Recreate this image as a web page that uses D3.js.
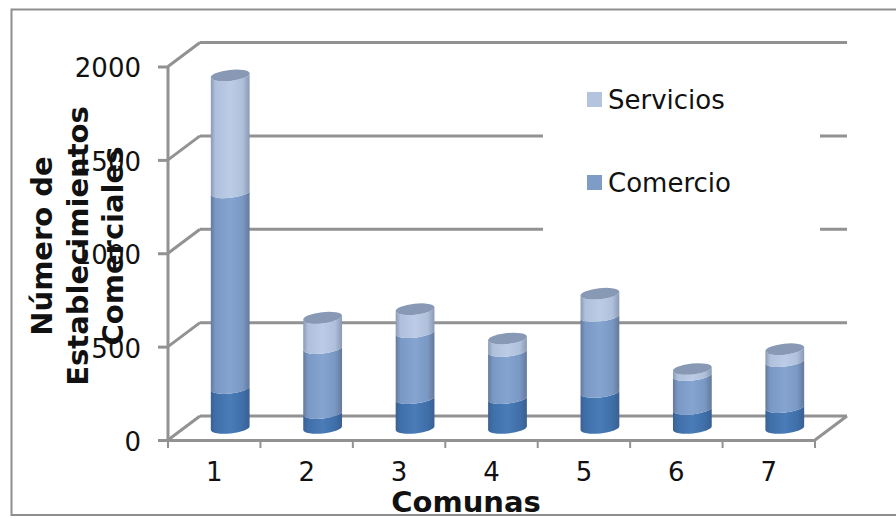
<!DOCTYPE html>
<html>
<head>
<meta charset="utf-8">
<script src="https://cdn.jsdelivr.net/npm/d3@7"></script>
<style>
  html, body { margin: 0; padding: 0; background: #fff; overflow: hidden; }
  text { font-family: "DejaVu Sans", Verdana, sans-serif; fill: #111; }
  .tick_label { font-size: 26px; }
  .title_label { font-size: 29px; font-weight: bold; }
  .legend_label { font-size: 26px; }
</style>
</head>
<body>
<div id="chart"></div>
<script>
var comunas = ["1", "2", "3", "4", "5", "6", "7"];
var yTicks = [0, 500, 1000, 1500, 2000];

// the three stacked series, bottom to top
var base = [214, 80, 160, 160, 193, 102, 112];
var comercio = [1048, 348, 353, 252, 406, 181, 246];
var servicios = [626, 163, 123, 67, 120, 33, 64];

var width = 896, height = 519;
var left = 168, right = 815, bottom = 440, top_ = 66.5;
var depth_x = 32, depth_y = -24;
var cyl_r = 19.5, cap_r = 5.5, cap_angle = -6;

var svg = d3.select("#chart")
  .append("svg")
  .attr("width", width)
  .attr("height", height)
  .style("display", "block");

var xScale = d3.scaleBand().domain(comunas).range([left, right]);
var yScale = d3.scaleLinear().domain([0, 2000]).range([bottom, top_]);

// side shading of the cylinders
var defs = svg.append("defs");
function makeGradient(id, edge, mid, light) {
  var g = defs.append("linearGradient").attr("id", id);
  g.append("stop").attr("offset", "0%").attr("stop-color", edge);
  g.append("stop").attr("offset", "12%").attr("stop-color", mid);
  g.append("stop").attr("offset", "50%").attr("stop-color", light);
  g.append("stop").attr("offset", "82%").attr("stop-color", mid);
  g.append("stop").attr("offset", "100%").attr("stop-color", edge);
}
makeGradient("grad_base", "#3a6092", "#3f6fa9", "#4a7cb7");
makeGradient("grad_comercio", "#64799c", "#7a98c4", "#86a4d0");
makeGradient("grad_servicios", "#8a9ab4", "#afc0dc", "#bccce6");

// frame, open on the right where the page ends
svg.append("rect")
  .attr("x", 11.5).attr("y", 9.5)
  .attr("width", 900).attr("height", 505.5)
  .attr("fill", "#fff")
  .attr("stroke", "#8e8e8e")
  .attr("stroke-width", 2);

// back wall lines and the slanted ones on the side wall
var grid = svg.append("g").attr("fill", "none").attr("stroke", "#929292").attr("stroke-width", 3);

grid.selectAll(".back_line")
  .data(yTicks)
  .enter().append("line")
  .attr("class", "back_line")
  .attr("x1", left + depth_x)
  .attr("x2", right + depth_x)
  .attr("y1", function(d) { return yScale(d) + depth_y; })
  .attr("y2", function(d) { return yScale(d) + depth_y; });

grid.selectAll(".side_line")
  .data(yTicks)
  .enter().append("line")
  .attr("class", "side_line")
  .attr("x1", left)
  .attr("x2", left + depth_x)
  .attr("y1", function(d) { return yScale(d); })
  .attr("y2", function(d) { return yScale(d) + depth_y; });

// floor edge on the right
grid.append("line")
  .attr("x1", right).attr("x2", right + depth_x)
  .attr("y1", bottom).attr("y2", bottom + depth_y);

// the legend box hides the middle lines behind it
svg.append("rect")
  .attr("x", 543).attr("y", 120)
  .attr("width", 277).attr("height", 125)
  .attr("fill", "#fff");

// axes
var yAxis = svg.append("g")
  .attr("transform", "translate(" + left + ",0)")
  .call(d3.axisLeft(yScale).tickValues(yTicks).tickFormat(d3.format("d")).tickSize(10).tickPadding(17));

var xAxis = svg.append("g")
  .attr("transform", "translate(0," + bottom + ")")
  .call(d3.axisBottom(xScale).tickSize(0).tickPadding(23));

yAxis.selectAll(".tick text").attr("class", "tick_label").attr("dy", "0.4em");
xAxis.selectAll(".tick text").attr("class", "tick_label").attr("dy", "0.71em");

[yAxis, xAxis].forEach(function(a) {
  a.attr("font-family", null).attr("font-size", null);
  a.selectAll(".domain, .tick line").attr("stroke", "#929292").attr("stroke-width", 3);
});
yAxis.selectAll(".domain").attr("d", "M" + 0 + "," + top_ + "V" + bottom);

// tick marks sit between the categories on the x axis
svg.selectAll(".x_tick")
  .data(comunas.concat(["end"]))
  .enter().append("line")
  .attr("class", "x_tick")
  .attr("x1", function(d, i) { return left + i * xScale.bandwidth(); })
  .attr("x2", function(d, i) { return left + i * xScale.bandwidth(); })
  .attr("y1", bottom)
  .attr("y2", bottom + 8)
  .attr("stroke", "#929292")
  .attr("stroke-width", 2);

// stacked cylinders
var rows = comunas.map(function(c, i) {
  return { comuna: c, base: base[i], comercio: comercio[i], servicios: servicios[i] };
});
var stack = d3.stack().keys(["base", "comercio", "servicios"])(rows);
var fills = { base: "url(#grad_base)", comercio: "url(#grad_comercio)", servicios: "url(#grad_servicios)" };

function barX(d) { return xScale(d.data.comuna) + xScale.bandwidth() / 2 + depth_x / 2; }
function barY(v) { return yScale(v) + depth_y / 2; }

// body of one stack segment; both ends follow the tilted ellipse of the cap
var half_w = cyl_r * Math.cos(cap_angle * Math.PI / 180);
var tilt = -cyl_r * Math.sin(cap_angle * Math.PI / 180);

function segmentPath(d) {
  var cx = barX(d), y0 = barY(d[0]), y1 = barY(d[1]);
  var arc = "A" + cyl_r + "," + cap_r + " " + cap_angle + " 0 ";
  return "M" + (cx - half_w) + "," + (y1 + tilt) +
    arc + "0 " + (cx + half_w) + "," + (y1 - tilt) +
    "V" + (y0 - tilt) +
    arc + "1 " + (cx - half_w) + "," + (y0 + tilt) + "Z";
}

stack.forEach(function(layer) {
  svg.selectAll(".seg_" + layer.key)
    .data(layer)
    .enter().append("path")
    .attr("class", "seg_" + layer.key)
    .attr("d", segmentPath)
    .attr("fill", fills[layer.key]);
});

// top caps
svg.selectAll(".cap")
  .data(stack[2])
  .enter().append("ellipse")
  .attr("class", "cap")
  .attr("cx", 0)
  .attr("cy", 0)
  .attr("rx", cyl_r)
  .attr("ry", cap_r)
  .attr("transform", function(d) {
    return "translate(" + barX(d) + "," + barY(d[1]) + ") rotate(" + cap_angle + ")";
  })
  .attr("fill", "#8899b6");

// axis titles
var yTitle = svg.append("text")
  .attr("class", "title_label")
  .attr("text-anchor", "middle")
  .attr("transform", "translate(52,246) rotate(-90)");

["Número de", "Establecimientos", "Comerciales"].forEach(function(line, i) {
  yTitle.append("tspan")
    .attr("x", 0)
    .attr("y", i * 35.5)
    .text(line);
});

svg.append("text")
  .attr("class", "title_label")
  .attr("x", 466)
  .attr("y", 512)
  .attr("text-anchor", "middle")
  .text("Comunas");

// legend
var legendNames = ["Servicios", "Comercio"];
var legendColors = ["#b4c3de", "#7f9cc6"];
var legendY = [99.5, 182.5];

svg.selectAll(".legend_swatch")
  .data(legendNames)
  .enter().append("rect")
  .attr("class", "legend_swatch")
  .attr("x", 587)
  .attr("y", function(d, i) { return legendY[i] - 7.5; })
  .attr("width", 15)
  .attr("height", 15)
  .attr("fill", function(d, i) { return legendColors[i]; });

svg.selectAll(".legend_label")
  .data(legendNames)
  .enter().append("text")
  .attr("class", "legend_label")
  .attr("x", 608)
  .attr("y", function(d, i) { return legendY[i] + 9; })
  .text(function(d) { return d; });
</script>
</body>
</html>
